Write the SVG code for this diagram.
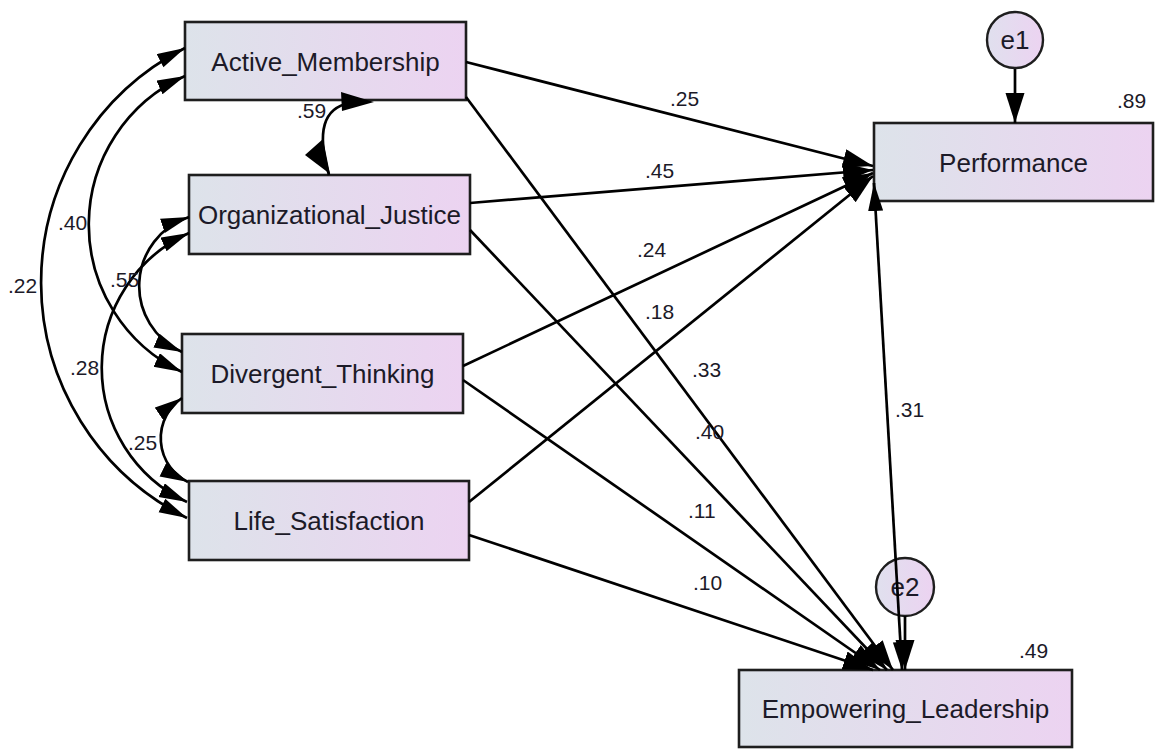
<svg xmlns="http://www.w3.org/2000/svg" width="1157" height="749" viewBox="0 0 1157 749">
  <style>
    .box { fill: url(#boxFill); stroke: #1e1e1e; stroke-width: 2.6; }
    .err { fill: url(#errFill); stroke: #1e1e1e; stroke-width: 2.4; }
    .name { font-family: "Liberation Sans", Arial, sans-serif; font-size: 26px; fill: #1c1a28; text-anchor: middle; }
    .coef { font-family: "Liberation Sans", Arial, sans-serif; font-size: 21px; fill: #1c1a28; }
    .path { fill: none; stroke: #000; stroke-width: 2.7; marker-end: url(#arr); }
    .cov { fill: none; stroke: #000; stroke-width: 2.7; marker-start: url(#cv); marker-end: url(#cv); }
    .head { fill: #000; }
  </style>
  <defs>
    <linearGradient id="boxFill" x1="0" y1="0" x2="1" y2="0">
      <stop offset="0" stop-color="#dde3ea"/>
      <stop offset="1" stop-color="#ecd3f1"/>
    </linearGradient>
    <linearGradient id="errFill" x1="0" y1="0" x2="1" y2="0">
      <stop offset="0" stop-color="#e0e0ee"/>
      <stop offset="1" stop-color="#ecd3f1"/>
    </linearGradient>
    <marker id="arr" markerUnits="userSpaceOnUse" markerWidth="32" markerHeight="20" refX="30" refY="9.5" orient="auto">
      <path d="M0,0 L30,9.5 L0,19 z" fill="#000"/>
    </marker>
    <marker id="cv" markerUnits="userSpaceOnUse" markerWidth="30" markerHeight="16" refX="28" refY="7.5" orient="auto-start-reverse">
      <path d="M0,0 L28,7.5 L0,15 z" fill="#000"/>
    </marker>
  </defs>

  <rect width="1157" height="749" fill="#ffffff"/>

  <!-- observed variables -->
  <g id="active_membership">
    <rect class="box" x="185" y="22" width="281" height="78"/>
    <text class="name" x="325.5" y="70.5">Active_Membership</text>
  </g>
  <g id="organizational_justice">
    <rect class="box" x="189" y="175" width="281" height="79"/>
    <text class="name" x="329.5" y="224">Organizational_Justice</text>
  </g>
  <g id="divergent_thinking">
    <rect class="box" x="182" y="334" width="281" height="79"/>
    <text class="name" x="322.5" y="383">Divergent_Thinking</text>
  </g>
  <g id="life_satisfaction">
    <rect class="box" x="189" y="481" width="280" height="79"/>
    <text class="name" x="329" y="530">Life_Satisfaction</text>
  </g>
  <g id="performance">
    <rect class="box" x="874" y="123" width="279" height="78"/>
    <text class="name" x="1013.5" y="171.5">Performance</text>
    <text class="coef" x="1117" y="108">.89</text>
  </g>
  <g id="empowering_leadership">
    <rect class="box" x="739" y="670" width="333" height="77"/>
    <text class="name" x="905.5" y="718">Empowering_Leadership</text>
    <text class="coef" x="1019" y="658">.49</text>
  </g>

  <!-- residual terms -->
  <g id="e1">
    <circle class="err" cx="1015" cy="40" r="28"/>
    <text class="name" x="1015" y="49">e1</text>
  </g>
  <g id="e2">
    <circle class="err" cx="905" cy="587" r="29"/>
    <text class="name" x="905" y="596">e2</text>
  </g>

  <!-- regression paths, covariances and their coefficients -->
  <g id="connectors">
    <path class="path" d="M466,62 L873,166"/>
    <path class="path" d="M470,203 L873,170"/>
    <path class="path" d="M463,366 L873,173"/>
    <path class="path" d="M469,502 L873,176"/>

    <path class="path" d="M466,97 L893,670"/>
    <path class="path" d="M470,230 L887,670"/>
    <path class="path" d="M463,380 L880,670"/>
    <path class="path" d="M469,535 L873,670"/>

    <path class="path" d="M1015,69 L1015,123"/>
    <path class="path" d="M905,616 L905,670"/>

    <path class="cov" d="M874,183 L902,670"/>

    <path class="cov" d="M185,48 A263,263 0 0 0 187,518"/>
    <path class="cov" d="M185,76 A163,163 0 0 0 182,372"/>
    <path class="cov" d="M189,217 A72.5,72.5 0 0 0 182,352"/>
    <path class="cov" d="M189,233 A148,148 0 0 0 187,502"/>
    <path class="cov" d="M182,398 A48.75,48.75 0 0 0 188,482"/>

    <path d="M329,175 Q310,110 350,103" fill="none" stroke="#000" stroke-width="2.7"/>
    <polygon class="head" points="341,92 374,102 342,111"/>
    <polygon class="head" points="305,155 323,139 330,174"/>

    <text class="coef" x="670" y="106">.25</text>
    <text class="coef" x="645" y="178">.45</text>
    <text class="coef" x="637" y="257">.24</text>
    <text class="coef" x="645" y="319">.18</text>
    <text class="coef" x="692" y="377">.33</text>
    <text class="coef" x="695" y="439">.40</text>
    <text class="coef" x="688" y="518">.11</text>
    <text class="coef" x="693" y="590">.10</text>
    <text class="coef" x="895" y="417">.31</text>
    <text class="coef" x="297" y="118">.59</text>
    <text class="coef" x="58" y="230">.40</text>
    <text class="coef" x="8" y="293">.22</text>
    <text class="coef" x="110" y="287">.55</text>
    <text class="coef" x="70" y="375">.28</text>
    <text class="coef" x="128" y="450">.25</text>
  </g>
</svg>
